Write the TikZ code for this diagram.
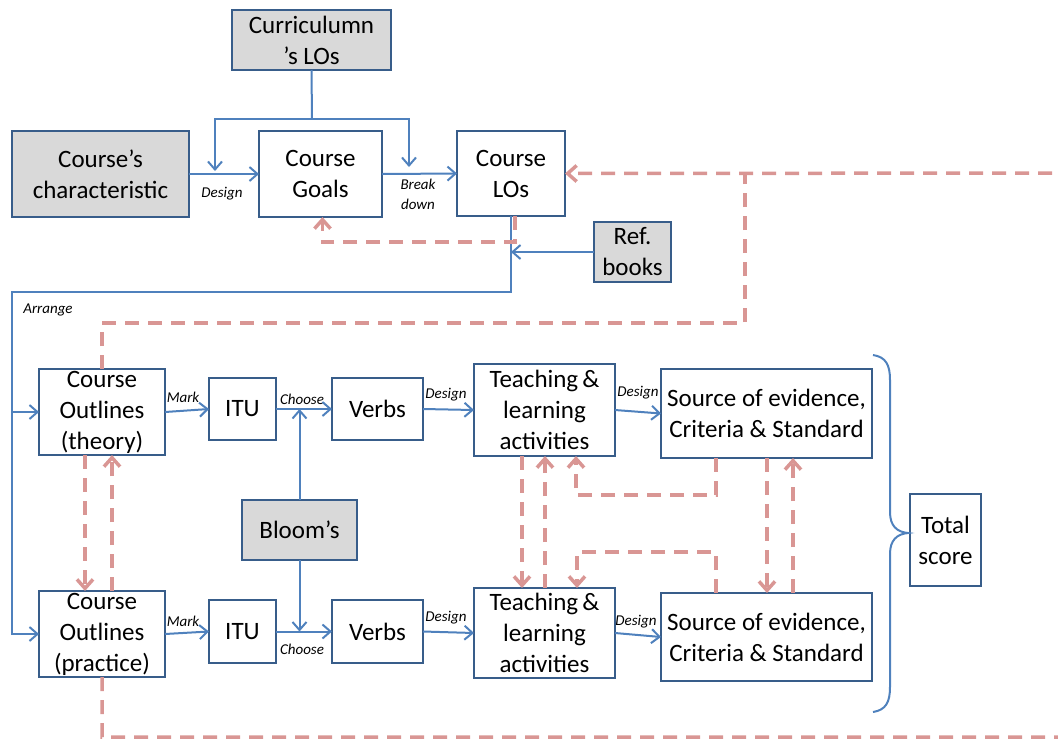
\documentclass[tikz,border=0pt]{standalone}
\usepackage{fontspec}
\setmainfont{Carlito}
\usetikzlibrary{arrows.meta}
\definecolor{bline}{RGB}{79,129,189}
\definecolor{bbord}{RGB}{56,93,138}
\definecolor{pk}{RGB}{217,150,148}
\definecolor{gfill}{RGB}{217,217,217}
\begin{document}
\begin{tikzpicture}[x=1pt,y=-1pt,
 box/.style={draw=bbord,line width=2,fill=white,inner sep=0,outer sep=0},
 gbox/.style={box,fill=gfill},
 bt/.style={font=\fontsize{25}{31}\selectfont,align=center,inner sep=0},
 lab/.style={font=\fontsize{15}{20}\selectfont\itshape,align=center,inner sep=0},
 bl/.style={draw=bline,line width=2},
 barr/.style={bl,-{Straight Barb[length=8,width=14]}},
 pd/.style={draw=pk,line width=3.5,dash pattern=on 14 off 9},
 parr/.style={pd,-{Straight Barb[length=9,width=16]}},
]
\useasboundingbox (0,0) rectangle (1058,740);
\clip (0,0) rectangle (1058,740);
% boxes
\node[gbox,minimum width=159,minimum height=60] (cur) at (311.5,40) {};
\node[gbox,minimum width=177,minimum height=86] (char) at (100.5,174) {};
\node[box,minimum width=123,minimum height=86] (goals) at (320.5,174) {};
\node[box,minimum width=108,minimum height=85] (los) at (511,173.5) {};
\node[gbox,minimum width=77,minimum height=60] (ref) at (632.5,252) {};
\node[box,minimum width=126,minimum height=86] (theory) at (102,412) {};
\node[box,minimum width=126,minimum height=86] (practice) at (102,634) {};
\node[box,minimum width=67,minimum height=62] (itu1) at (242.5,409) {};
\node[box,minimum width=67,minimum height=63] (itu2) at (242.5,631.5) {};
\node[box,minimum width=91,minimum height=62] (verbs1) at (377.5,409) {};
\node[box,minimum width=91,minimum height=63] (verbs2) at (377.5,631.5) {};
\node[gbox,minimum width=115,minimum height=60] (bloom) at (299.5,530) {};
\node[box,minimum width=141,minimum height=92] (tl1) at (544.5,410) {};
\node[box,minimum width=141,minimum height=90] (tl2) at (544.5,633) {};
\node[box,minimum width=211,minimum height=89] (src1) at (766.5,413.5) {};
\node[box,minimum width=211,minimum height=88] (src2) at (766.5,637) {};
\node[box,minimum width=71,minimum height=92] (total) at (945.5,540) {};
% texts
\node[bt] (curT) at (cur) {Curriculumn\\’s LOs};
\node[bt] (charT) at (char) {Course’s\\characteristic};
\node[bt] (goalsT) at (goals) {Course\\Goals};
\node[bt] (losT) at (los) {Course\\LOs};
\node[bt] (refT) at (ref) {Ref.\\books};
\node[bt] (theoryT) at (theory) {Course\\Outlines\\(theory)};
\node[bt] (practiceT) at (practice) {Course\\Outlines\\(practice)};
\node[bt] (itu1T) at (itu1) {ITU};
\node[bt] (itu2T) at (itu2) {ITU};
\node[bt] (verbs1T) at (verbs1) {Verbs};
\node[bt] (verbs2T) at (verbs2) {Verbs};
\node[bt] (bloomT) at (bloom) {Bloom’s};
\node[bt] (tl1T) at (tl1) {Teaching\,\&\\learning\\activities};
\node[bt] (tl2T) at (tl2) {Teaching\,\&\\learning\\activities};
\node[bt] (src1T) at (src1) {Source of evidence,\\Criteria \& Standard};
\node[bt] (src2T) at (src2) {Source of evidence,\\Criteria \& Standard};
\node[bt] (totalT) at (total) {Total\\score};
% labels
\node[lab] (l1) at (222,194) {Design};
\node[lab] (l2) at (418,194) {Break\\down};
\node[lab] (l3) at (48,310) {Arrange};
\node[lab] (l4) at (183,397) {Mark};
\node[lab] (l5) at (183,621) {Mark};
\node[lab] (l6) at (302,399) {Choose};
\node[lab] (l7) at (302,649) {Choose};
\node[lab] (l8) at (446,395) {Design};
\node[lab] (l9) at (446,618) {Design};
\node[lab] (l10) at (638,393) {Design};
\node[lab] (l11) at (636,622) {Design};
% blue connectors
\coordinate (cj) at (312,119);
\coordinate (dl) at (215,171);
\coordinate (dr) at (409,167);
\coordinate (ar) at (12,292);
\draw[barr] (char.east) -- (goals.west);
\draw[barr] (goals.east) -- (los.west);
\draw[bl] (cur.south) -- (cj);
\draw[barr] (cj) -| (dl);
\draw[barr] (cj) -| (dr);
\draw[barr] (los.south) |- (ar) -- (ar |- practice.west) -- (practice.west);
\draw[barr] (ar |- theory.west) -- (theory.west);
\draw[barr] (ref.west) -- (ref.west -| los.south);
\draw[barr] (theory.east) -- (itu1.west);
\draw[barr] (itu1.east) -- (verbs1.west);
\draw[barr] (verbs1.east) -- (tl1.west);
\draw[barr] (tl1.east) -- (src1.west);
\draw[barr] (practice.east) -- (itu2.west);
\draw[barr] (itu2.east) -- (verbs2.west);
\draw[barr] (verbs2.east) -- (tl2.west);
\draw[barr] (tl2.east) -- (src2.west);
\draw[barr] (bloom.north) -- (bloom.north |- itu1.east);
\draw[barr] (bloom.south) -- (bloom.south |- itu2.east);
% brace
\draw[bl] (873,355) .. controls (886,357) and (890,365) .. (890,380) -- (890,512) .. controls (890,526) and (897,532) .. (908,533) .. controls (897,534) and (890,540) .. (890,554) -- (890,687) .. controls (890,702) and (886,710) .. (873,712);
% pink dashed
\coordinate (pr) at (1070,737);
\coordinate (pq) at (1070,173);
\coordinate (pj) at (745,323);
\coordinate (pk2) at (745,173);
\draw[parr] (practice.south) |- (pr) -- (pq) -- (los.east);
\draw[pd] (theory.north) |- (pj) -- (pk2);
\draw[parr] ([xshift=4]los.south) -- ++(0,26) -| ([xshift=2]goals.south);
\draw[parr] ([xshift=-17]theory.south) -- ([xshift=-17]practice.north);
\draw[parr] ([xshift=10]practice.north) -- ([xshift=10]theory.south);
\draw[parr] ([xshift=-22.5]tl1.south) -- ([xshift=-22.5]tl2.north);
\draw[parr] ([xshift=0.5]tl2.north) -- ([xshift=0.5]tl1.south);
\draw[parr] ([xshift=-50.5]src1.south) -- ++(0,37) -| ([xshift=31.5]tl1.south);
\draw[parr] ([xshift=-50.5]src2.north) -- ++(0,-41) -| ([xshift=32.5]tl2.north);
\draw[parr] ([xshift=0.5]src1.south) -- ([xshift=0.5]src2.north);
\draw[parr] ([xshift=26.5]src2.north) -- ([xshift=26.5]src1.south);
\end{tikzpicture}
\end{document}
